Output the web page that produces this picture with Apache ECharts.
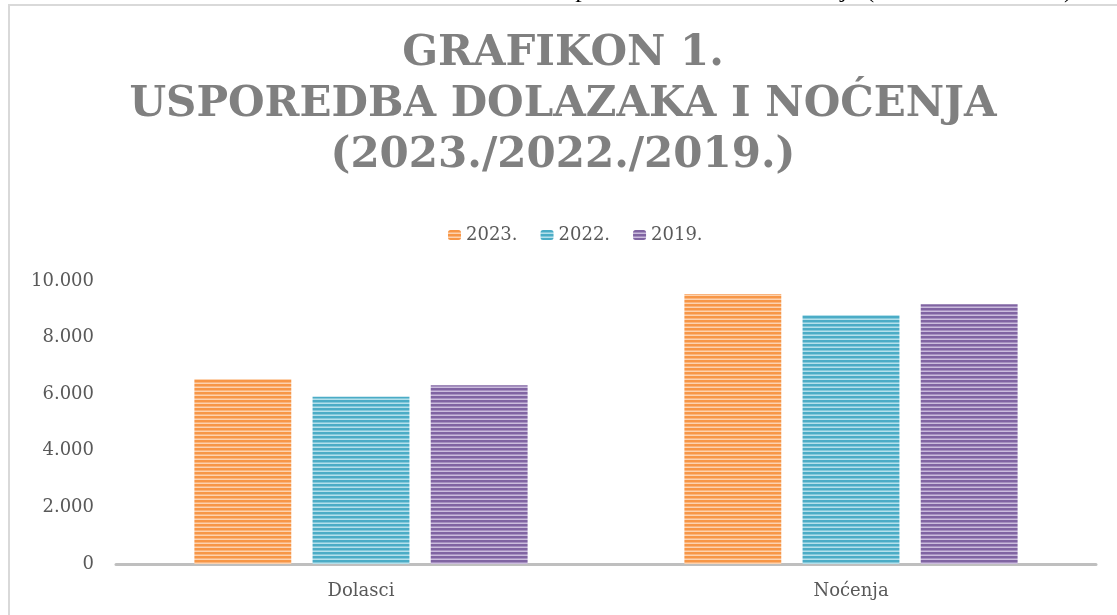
<!DOCTYPE html>
<html>
<head>
<meta charset="utf-8">
<script src="https://cdn.jsdelivr.net/npm/echarts@6/dist/echarts.min.js"></script>
<style>html,body{margin:0;padding:0;background:#fff;}#c{width:1117px;height:615px;}</style>
</head>
<body>
<div id="c"></div>
<script>
const categories = ['Dolasci', 'Noćenja'];
const seriesNames = ['2023.', '2022.', '2019.'];
const values2023 = [6540, 9540];
const values2022 = [5910, 8800];
const values2019 = [6320, 9180];
const yTicks = { min: 0, max: 10000, interval: 2000 };
const titleLines = ['GRAFIKON 1.', 'USPOREDBA DOLAZAKA I NOĆENJA', '(2023./2022./2019.)'];
const captionText = 'Grafikon 1. Usporedba dolazaka i noćenja (2023./2022./2019.)';

function stripes(dark, light, mid) {
  const c = document.createElement('canvas');
  c.width = 4; c.height = 4;
  const g = c.getContext('2d');
  g.fillStyle = dark; g.fillRect(0, 0, 4, 2);
  g.fillStyle = mid; g.fillRect(0, 2, 4, 1);
  g.fillStyle = light; g.fillRect(0, 3, 4, 1);
  return { image: c, repeat: 'repeat' };
}
const pats = [
  stripes('#F79646', '#FDD2AE', '#FAB47C'),
  stripes('#4BACC6', '#B4E0EB', '#84C8DA'),
  stripes('#8064A2', '#CBBCDD', '#A690C0')
];
const seriesData = [values2023, values2022, values2019];

const chart = echarts.init(document.getElementById('c'), null, { renderer: 'canvas' });
const serif = 'DejaVu Serif';
chart.setOption({
  animation: false,
  backgroundColor: '#fff',
  legend: {
    data: seriesNames,
    left: 443, top: 221,
    itemWidth: 13, itemHeight: 10, itemGap: 23,
    textStyle: { fontFamily: serif, fontSize: 18, color: '#595959' }
  },
  grid: { left: 116, right: 21, top: 281, bottom: 51, containLabel: false },
  xAxis: {
    type: 'category', data: categories,
    axisLine: { lineStyle: { color: '#BFBFBF', width: 3 } },
    axisTick: { show: false },
    axisLabel: { fontFamily: serif, fontSize: 18, color: '#595959', margin: 18 }
  },
  yAxis: {
    type: 'value', min: yTicks.min, max: yTicks.max, interval: yTicks.interval,
    axisLine: { show: false }, axisTick: { show: false }, splitLine: { show: false },
    axisLabel: {
      fontFamily: serif, fontSize: 18, color: '#595959', margin: 22,
      formatter: v => v === 0 ? '0' : v.toLocaleString('de-DE')
    }
  },
  series: seriesNames.map((n, i) => ({
    name: n, type: 'bar', data: seriesData[i],
    barGap: '22%', barCategoryGap: '32%',
    itemStyle: { color: pats[i] }
  })),
  graphic: [
    { type: 'text', x: 420, y: 3, style: { text: captionText, font: '26px "Liberation Serif"', fill: '#000', align: 'left', verticalAlign: 'bottom' } },
    { type: 'rect', shape: { x: 0, y: 4, width: 1117, height: 20 }, style: { fill: '#fff' } },
    { type: 'line', shape: { x1: 9, y1: 5, x2: 9, y2: 615 }, style: { stroke: '#D9D9D9', lineWidth: 2 } },
    { type: 'line', shape: { x1: 8, y1: 5, x2: 1117, y2: 5 }, style: { stroke: '#D9D9D9', lineWidth: 2 } },
    ...titleLines.map((t, i) => ({
      type: 'text', x: 563, y: 54 + i * 51,
      style: { text: t, font: 'bold 42px "DejaVu Serif"', fill: '#808080', align: 'center', verticalAlign: 'middle' }
    }))
  ]
});
</script>
</body>
</html>
